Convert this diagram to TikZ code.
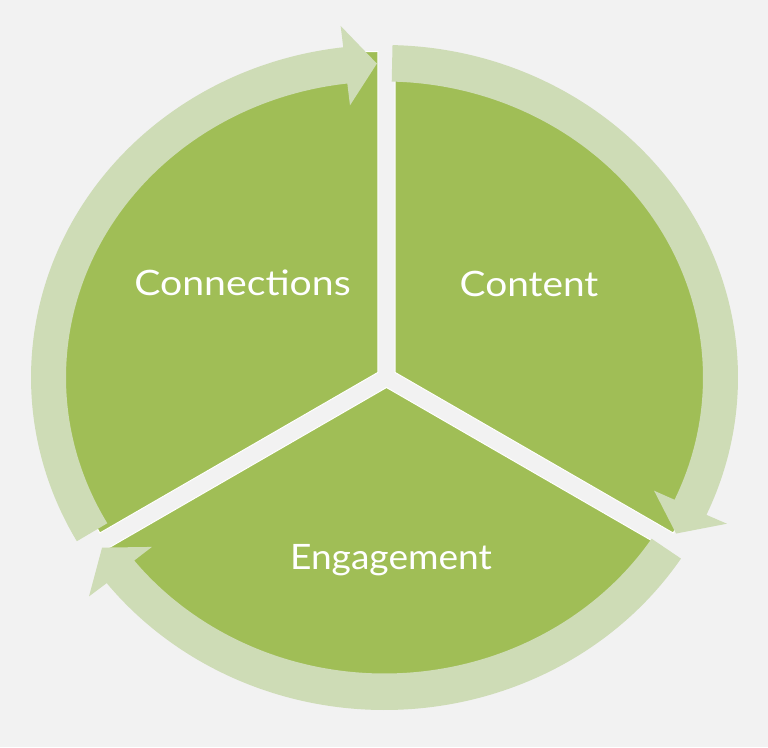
\documentclass[tikz,border=0pt]{standalone}
\usepackage{graphicx}
\usepackage{fontspec}
\setmainfont{Lato}
\definecolor{bgc}{HTML}{F2F2F2}
\definecolor{piec}{HTML}{A0BE56}
\definecolor{bandc}{HTML}{CEDCB6}
\newcommand\cx{384.5}
\newcommand\cy{369.5}
% #1 tail angle, #2 head base angle, #3 tip angle
\newcommand\cycarrow[3]{%
  \fill[bandc] ({\cx+353.5*cos(#1)},{\cy+332.5*sin(#1)})
    arc[start angle=#1, end angle=#2, x radius=353.5pt, y radius=332.5pt]
    -- ({\cx+376*cos(#2)},{\cy+354*sin(#2)})
    -- ({\cx+336*cos(#3)},{\cy+314*sin(#3)})
    -- ({\cx+296*cos(#2)},{\cy+274*sin(#2)})
    -- ({\cx+318.5*cos(#2)},{\cy+296*sin(#2)})
    arc[start angle=#2, end angle=#1, x radius=318.5pt, y radius=296pt]
    -- cycle;}
\newcommand\widetxt[2]{\scalebox{#1}[1]{#2}}
\tikzset{
  piece/.style={fill=piec, draw=white, line width=1pt, line join=miter},
  lbl/.style={text=white, font=\fontsize{35}{42}\selectfont, anchor=base, inner sep=0pt}
}
\begin{document}
\begin{tikzpicture}[x=1pt,y=1pt]
\useasboundingbox (0,0) rectangle (768,747);
\fill[bgc] (0,0) rectangle (768,747);
% pie segments
\coordinate (aconn) at (377.8,374.5);
\coordinate (acont) at (395.2,374.5);
\coordinate (aeng) at (386.5,359.5);
\path[piece] (aconn) -- ++(90:321) arc[start angle=90, end angle=210, radius=321pt] -- cycle;
\path[piece] (acont) -- ++(-30:321) arc[start angle=-30, end angle=90, radius=321pt] -- cycle;
\path[piece] (aeng) -- ++(210:321) arc[start angle=210, end angle=330, radius=321pt] -- cycle;
% circular arrows
\cycarrow{209.5}{96.7}{91.3}
\cycarrow{88.7}{-24.4}{-29.8}
\cycarrow{327}{218.2}{212.8}
% labels
\node[lbl] (conn) at (242.5,451) {\widetxt{1.12}{Connections}};
\node[lbl] (cont) at (529,450) {\widetxt{1.11}{Content}};
\node[lbl] (eng) at (391,177) {\widetxt{1.06}{Engagement}};
\end{tikzpicture}
\end{document}
